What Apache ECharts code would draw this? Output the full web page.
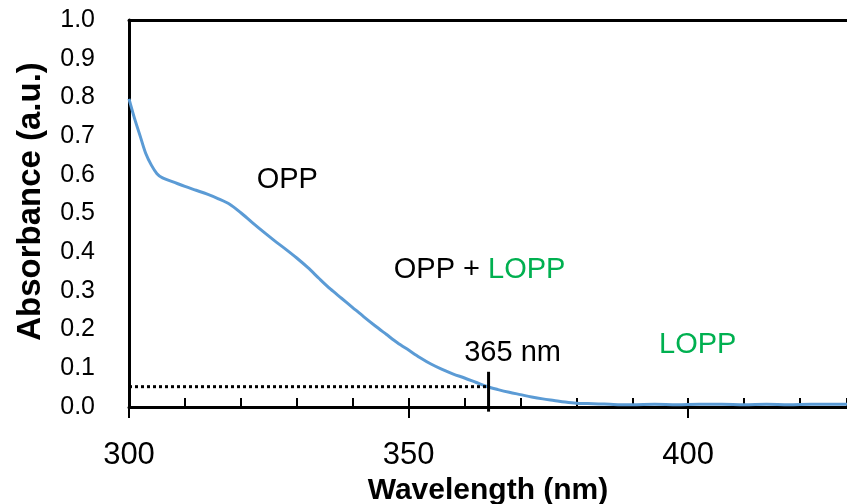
<!DOCTYPE html>
<html>
<head>
<meta charset="utf-8">
<script src="https://cdn.jsdelivr.net/npm/echarts@6/dist/echarts.min.js"></script>
<style>
html,body{margin:0;padding:0;background:#fff;}
#chart{width:847px;height:504px;}
</style>
</head>
<body>
<div id="chart"></div>
<script>
// Wavelength (nm) and absorbance (a.u.)
var wavelengths = [300,301,302,303,304,305,306,308,310,312,314,316,318,320,322,324,326,328,330,332,334,336,338,340,342,344,346,348,350,352,354,356,358,360,362,364,366,368,370,372,374,376,378,380,382,384,386,388,390,394,398,402,406,410,414,418,422,426,429];
var absorbance = [0.796,0.745,0.700,0.655,0.625,0.603,0.592,0.581,0.570,0.560,0.550,0.538,0.524,0.502,0.477,0.453,0.430,0.408,0.385,0.360,0.332,0.305,0.281,0.257,0.233,0.210,0.188,0.166,0.147,0.128,0.111,0.097,0.085,0.075,0.064,0.053,0.045,0.038,0.032,0.026,0.021,0.017,0.013,0.010,0.009,0.008,0.007,0.006,0.006,0.007,0.006,0.007,0.007,0.006,0.007,0.006,0.007,0.007,0.007];

var xTicksMajor = [300, 350, 400];
var markerWavelength = 364.3;
var markerAbsorbance = 0.0525;
var markerTick = [-0.012, 0.091];

var annotationTexts = ['OPP', 'OPP + LOPP', '365 nm', 'LOPP'];
var annotationX = [328.3, 362.7, 368.6, 401.7];
var annotationY = [0.587, 0.354, 0.140, 0.160];

var xTitle = 'Wavelength (nm)';
var yTitle = 'Absorbance (a.u.)';

var FONT = '"Liberation Sans", Arial, sans-serif';
var BLUE = '#5B9BD5';
var GREEN = '#00B050';

var curve = wavelengths.map(function(w, i){ return [w, absorbance[i]]; });
var XMIN = 300, XMAX = 428.4;

var annData = annotationTexts.map(function(t, i){
  var isGreen = (t === 'LOPP');
  var lab = {show:true, position:'inside', fontSize:29, fontFamily:FONT, color: isGreen ? GREEN : '#000', opacity:1};
  if (t === 'OPP + LOPP') {
    lab.formatter = '{a|OPP + }{b|LOPP}';
    lab.rich = {a:{color:'#000', fontSize:29, fontFamily:FONT}, b:{color:GREEN, fontSize:29, fontFamily:FONT}};
  } else {
    lab.formatter = t;
  }
  return {value:[annotationX[i], annotationY[i]], label:lab};
});

var chart = echarts.init(document.getElementById('chart'), null, {renderer:'canvas'});
chart.setOption({
  animation:false,
  backgroundColor:'#fff',
  grid:{left:129, right:0, top:20, bottom:97, containLabel:false, outerBoundsMode:'none'},
  xAxis:[
    {type:'value', min:XMIN, max:XMAX, interval:10, position:'bottom',
     axisLine:{show:true, onZero:false, lineStyle:{color:'#000', width:3}},
     axisTick:{show:true, inside:true, length:9, lineStyle:{color:'#000', width:2}},
     axisLabel:{show:false}, splitLine:{show:false}},
    {type:'value', min:XMIN, max:XMAX, interval:50, position:'bottom',
     axisLine:{show:false, onZero:false},
     axisTick:{show:true, inside:false, length:11, lineStyle:{color:'#000', width:2}},
     axisLabel:{show:true, fontSize:31, fontFamily:FONT, color:'#000', margin:33, showMaxLabel:false,
       formatter:function(v){ return xTicksMajor.indexOf(v) >= 0 ? String(v) : ''; }},
     splitLine:{show:false},
     name:xTitle, nameLocation:'middle', nameGap:66,
     nameTextStyle:{fontSize:30, fontWeight:'bold', fontFamily:FONT, color:'#000'}},
    {type:'value', min:XMIN, max:XMAX, position:'top',
     axisLine:{show:true, onZero:false, lineStyle:{color:'#000', width:3}},
     axisTick:{show:false}, axisLabel:{show:false}, splitLine:{show:false}}
  ],
  yAxis:[
    {type:'value', min:0, max:1, interval:0.1,
     axisLine:{show:true, onZero:false, lineStyle:{color:'#000', width:3}},
     axisTick:{show:false},
     axisLabel:{show:true, fontSize:25, fontFamily:FONT, color:'#000', margin:34,
       formatter:function(v){ return v.toFixed(1); }},
     splitLine:{show:false},
     name:yTitle, nameLocation:'middle', nameGap:82,
     nameTextStyle:{fontSize:33, fontWeight:'bold', fontFamily:FONT, color:'#000', padding:[0,0,0,24]}}
  ],
  series:[
    {type:'line', xAxisIndex:0, data:curve, smooth:0.3, showSymbol:false,
     lineStyle:{color:BLUE, width:3}, z:3},
    {type:'line', xAxisIndex:0, data:[[XMIN, markerAbsorbance],[markerWavelength, markerAbsorbance]],
     showSymbol:false, lineStyle:{color:'#000', width:3, type:[3,3]}, z:4},
    {type:'line', xAxisIndex:0, data:[[markerWavelength, markerTick[0]],[markerWavelength, markerTick[1]]],
     showSymbol:false, clip:false, lineStyle:{color:'#000', width:3}, z:5},
    {type:'scatter', xAxisIndex:0, symbolSize:0, itemStyle:{opacity:1}, data:annData, z:6, silent:true}
  ]
});
</script>
</body>
</html>
